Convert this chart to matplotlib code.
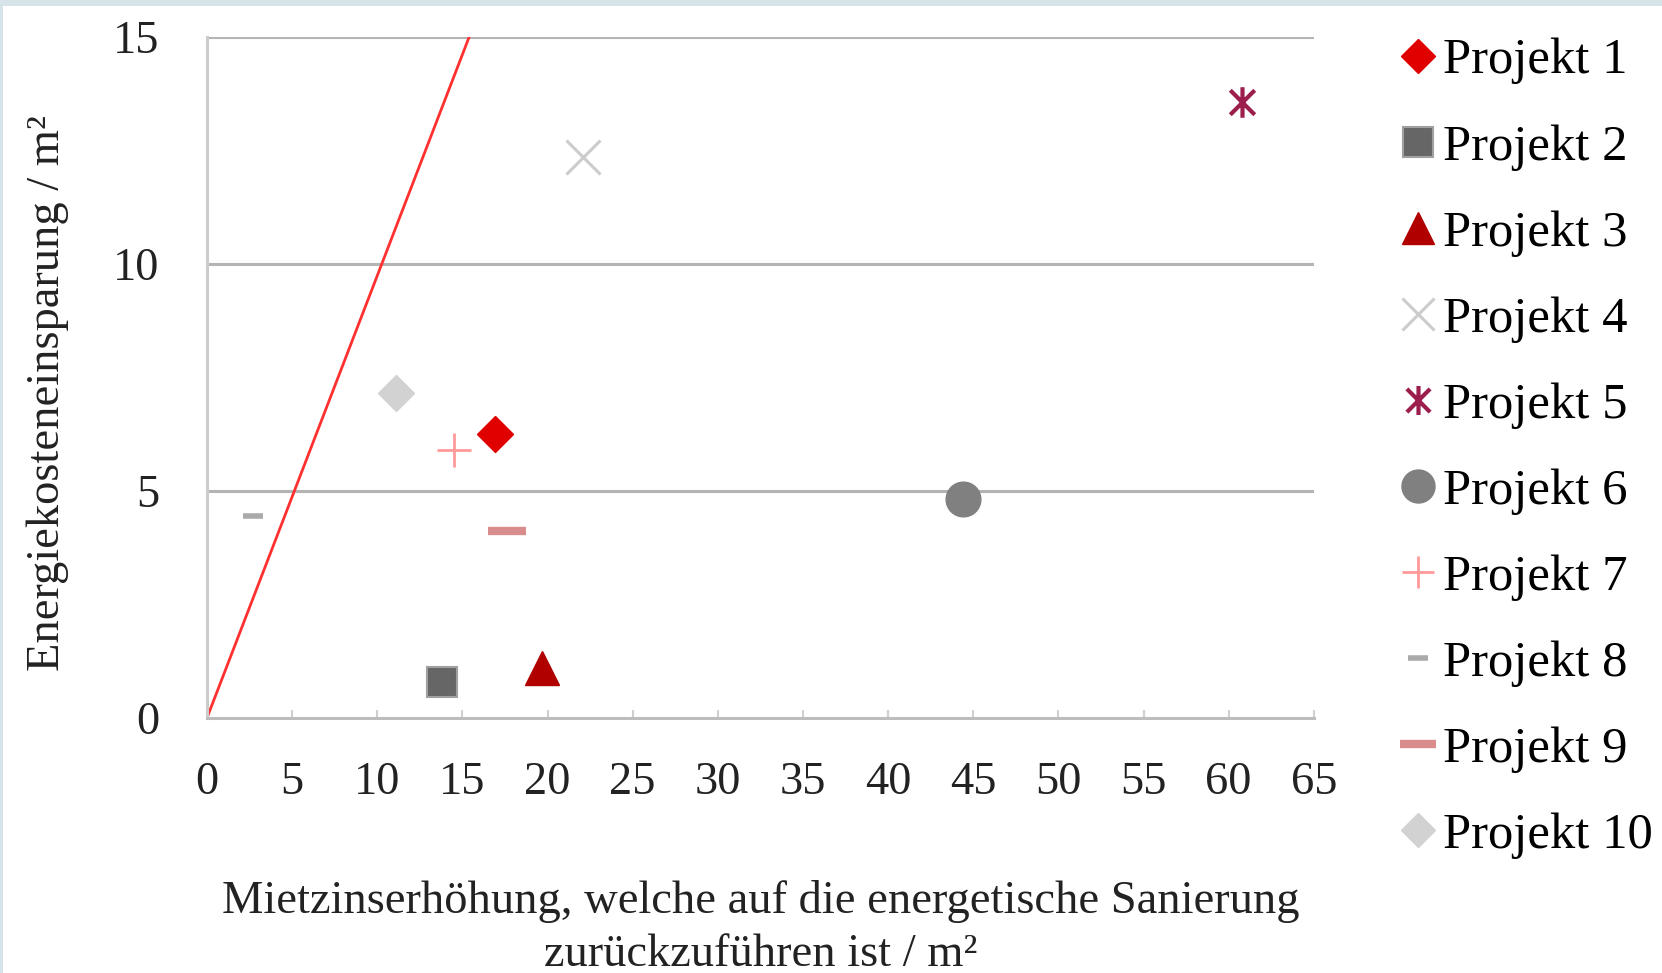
# Scatter: energy cost savings vs. rent increase per project
import numpy as np
import matplotlib
matplotlib.use("Agg")
import matplotlib.pyplot as plt
from matplotlib.path import Path
from matplotlib.patches import Rectangle

plt.rcParams.update({"font.family": ["Liberation Serif", "DejaVu Serif"],
                     "font.size": 33.5})

projects = ["Projekt %d" % i for i in range(1, 11)]
rent_increase = [16.9, 13.8, 19.7, 22.1, 60.8, 44.4, 14.5, 2.7, 17.6, 11.1]
energy_savings = [6.25, 0.8, 1.1, 12.35, 13.57, 4.82, 5.9, 4.45, 4.12, 7.15]

# reference line
line_x = [0, 15.4]
line_y = [0, 15.0]

xticks = list(range(0, 70, 5))
yticks = [0, 5, 10, 15]

# asterisk marker (x plus vertical bar)
star = Path([(-1, -1), (1, 1), (-1, 1), (1, -1), (0, -1.25), (0, 1.25)],
            [Path.MOVETO, Path.LINETO, Path.MOVETO, Path.LINETO, Path.MOVETO, Path.LINETO])

styles = [
    dict(marker="D", ms=18, color="#e00000", mec="#e00000"),
    dict(marker="s", ms=22, color="#666666", mec="#a0a0a0", mew=1.5),
    dict(marker="^", ms=25, color="#b00000", mec="#b00000"),
    dict(marker="x", ms=24, color="#cccccc", mew=2.2),
    dict(marker=star, ms=22, color="#9c1e4c", mew=3),
    dict(marker="o", ms=25, color="#808080", mec="#808080"),
    dict(marker="+", ms=24, color="#ff9a9a", mew=2),
    dict(marker="_", ms=15, color="#aaaaaa", mew=4),
    dict(marker="_", ms=27, color="#d98c8c", mew=6),
    dict(marker="D", ms=18, color="#d2d2d2", mec="#d2d2d2"),
]

fig = plt.figure(figsize=(16.62, 9.73), dpi=100)
fig.patch.set_facecolor("#d6e4ea")
fig.add_artist(Rectangle((3 / 1662, 0), 1, 1 - 6 / 973, transform=fig.transFigure,
                         facecolor="white", edgecolor="none", zorder=-10))

ax = fig.add_axes([0.1245, 0.262, 0.666, 0.700])
ax.set_facecolor("none")

for y in yticks[1:]:
    ax.axhline(y, color="#b4b4b4", lw=2.2, zorder=1)

ax.plot(line_x, line_y, color="#ff3030", lw=2, zorder=2)

handles = []
for name, x, y, st in zip(projects, rent_increase, energy_savings, styles):
    h, = ax.plot([x], [y], linestyle="none", label=name, zorder=3, **st)
    handles.append(h)

ax.set_xlim(0, 65)
ax.set_ylim(0, 15)
ax.set_xticks(xticks)
ax.set_yticks(yticks)

for s in ("top", "right"):
    ax.spines[s].set_visible(False)
ax.spines["left"].set_color("#cccccc")
ax.spines["left"].set_linewidth(2.2)
ax.spines["bottom"].set_color("#bdbdbd")
ax.spines["bottom"].set_linewidth(2.2)

ax.tick_params(axis="x", direction="in", length=6, width=1.5, color="#d0d0d0",
               pad=31, labelcolor="#222222")
ax.tick_params(axis="y", length=0, pad=34, labelcolor="#222222")

ax.set_xlabel("Mietzinserhöhung, welche auf die energetische Sanierung\n"
              "zurückzuführen ist / m²", labelpad=55, linespacing=1.32, color="#222222")
ax.set_ylabel("Energiekosteneinsparung / m²", color="#222222")
ax.yaxis.set_label_coords(-0.125, 0.478)

fig.legend(handles=handles, loc="upper left", bbox_to_anchor=(1402 / 1662, 1 - 38 / 973),
           frameon=False, numpoints=1, handlelength=0.65, handletextpad=0.15,
           labelspacing=0.78, borderaxespad=0, borderpad=0,
           markerscale=0.95, fontsize=36.5)

fig.savefig("out.png", dpi=100, facecolor=fig.get_facecolor())
